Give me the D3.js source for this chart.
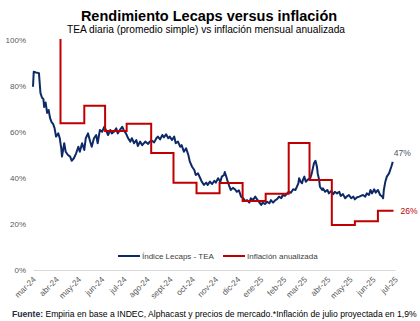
<!DOCTYPE html>
<html><head><meta charset="utf-8">
<script src="https://cdn.jsdelivr.net/npm/d3@7"></script>
<style>html,body{margin:0;padding:0;background:#fff;}svg{display:block;font-family:"Liberation Sans",Arial,sans-serif;}</style>
</head><body><svg id="c" width="420" height="321"></svg>
<script>
const title = "Rendimiento Lecaps versus inflación";
const subtitle = "TEA diaria (promedio simple) vs inflación mensual anualizada";
const tickLabels = ["mar-24","abr-24","may-24","jun-24","jul-24","ago-24","sept-24","oct-24","nov-24","dic-24","ene-25","feb-25","mar-25","abr-25","may-25","jun-25","jul-25"];
const yTicks = [0,20,40,60,80,100];
const seriesNames = ["Índice Lecaps - TEA","Inflación anualizada"];

// Índice Lecaps - TEA (%)
const lecapsDates = ["2024-03-01","2024-03-02","2024-03-05","2024-03-09","2024-03-11","2024-03-13","2024-03-15","2024-03-16","2024-03-18","2024-03-20","2024-03-22","2024-03-24","2024-03-26","2024-03-28","2024-03-30","2024-04-01","2024-04-04","2024-04-06","2024-04-08","2024-04-09","2024-04-12","2024-04-14","2024-04-17","2024-04-20","2024-04-22","2024-04-25","2024-04-28","2024-05-01","2024-05-03","2024-05-06","2024-05-09","2024-05-11","2024-05-14","2024-05-17","2024-05-19","2024-05-22","2024-05-25","2024-05-27","2024-05-30","2024-06-02","2024-06-05","2024-06-07","2024-06-10","2024-06-13","2024-06-15","2024-06-18","2024-06-21","2024-06-23","2024-06-26","2024-06-29","2024-07-01","2024-07-04","2024-07-07","2024-07-10","2024-07-12","2024-07-15","2024-07-18","2024-07-20","2024-07-23","2024-07-26","2024-07-30","2024-08-03","2024-08-05","2024-08-08","2024-08-11","2024-08-14","2024-08-16","2024-08-19","2024-08-22","2024-08-24","2024-08-27","2024-08-30","2024-09-01","2024-09-04","2024-09-07","2024-09-09","2024-09-12","2024-09-15","2024-09-17","2024-09-20","2024-09-23","2024-09-26","2024-09-28","2024-10-01","2024-10-04","2024-10-06","2024-10-09","2024-10-12","2024-10-14","2024-10-17","2024-10-20","2024-10-22","2024-10-25","2024-10-28","2024-10-31","2024-11-02","2024-11-05","2024-11-08","2024-11-10","2024-11-13","2024-11-14","2024-11-16","2024-11-18","2024-11-20","2024-11-22","2024-11-25","2024-11-28","2024-11-30","2024-12-03","2024-12-06","2024-12-09","2024-12-11","2024-12-14","2024-12-17","2024-12-19","2024-12-22","2024-12-25","2024-12-27","2024-12-30","2025-01-02","2025-01-04","2025-01-07","2025-01-10","2025-01-13","2025-01-15","2025-01-18","2025-01-21","2025-01-23","2025-01-26","2025-01-29","2025-01-31","2025-02-03","2025-02-06","2025-02-08","2025-02-11","2025-02-14","2025-02-17","2025-02-19","2025-02-21","2025-02-22","2025-02-24","2025-02-26","2025-02-27","2025-03-01","2025-03-03","2025-03-06","2025-03-09","2025-03-11","2025-03-14","2025-03-16","2025-03-18","2025-03-19","2025-03-21","2025-03-22","2025-03-25","2025-03-26","2025-03-29","2025-04-01","2025-04-03","2025-04-06","2025-04-09","2025-04-11","2025-04-14","2025-04-17","2025-04-19","2025-04-22","2025-04-25","2025-04-27","2025-04-30","2025-05-03","2025-05-06","2025-05-08","2025-05-11","2025-05-14","2025-05-16","2025-05-19","2025-05-22","2025-05-24","2025-05-27","2025-05-29","2025-05-31","2025-06-03","2025-06-05","2025-06-08","2025-06-11","2025-06-14","2025-06-15","2025-06-16","2025-06-18","2025-06-20","2025-06-23","2025-06-26","2025-06-28"];
const lecapsValues = [79.7,86.2,85.9,85.6,77,75,74.3,70.9,72.8,68.3,69.6,66,64.3,63.5,61.7,58,59.4,57.3,52.9,49.3,55.1,51.4,50,49.3,47.5,48.6,50.7,53.6,51.4,55.1,52.2,57.3,59.4,55.8,53.6,57.3,58.7,55.1,60.9,60.1,62.3,60.9,58.7,60.9,59.4,60.1,61.6,59.4,60.9,62.3,60.9,59.4,57.3,55.8,57.3,55.1,56.5,53.9,55.8,54.3,55.8,54.8,55.8,56.2,55.5,57.3,58,56.8,58.7,57.7,59,57.3,58,56.5,58,55.1,55.8,53.6,54.3,51.4,52.9,50,47.1,44.9,43.5,41.3,42,39.9,38.4,37,38,37,38.4,37.4,38.8,38,39.9,38.4,40.6,41.3,42.6,40.6,38.4,36.5,34.8,35.7,35,34,34.6,31.9,31.2,30,30.4,29.3,31.2,30.4,31.9,30.9,29.6,28.3,29.3,28.7,29.7,29,30.4,29.3,30.4,30.7,31.9,31.2,32.6,32.2,33.3,34,33.6,35.1,34.8,36.2,37.7,39.9,38.4,37.7,39.1,40.6,38.4,39.4,39.9,42,46.4,47.5,44.9,42,39.1,36.2,34.8,35.5,34,34.8,33.3,34.3,33,34,33.3,34,32.2,33,31.2,31.9,32.6,31.2,31.9,30.7,31.6,31.9,32.2,32.6,31.9,33.3,32.6,34.8,33.3,35.1,33.6,34.8,32.6,31.9,31.2,34.8,38.4,40.6,42,44.9,47];

// Inflación mensual anualizada (%), step changes
const inflDates = ["2024-03-01","2024-04-07","2024-05-09","2024-06-06","2024-07-05","2024-08-07","2024-09-06","2024-10-07","2024-11-07","2024-12-08","2025-01-08","2025-02-08","2025-03-08","2025-04-07","2025-05-08","2025-06-08","2025-06-29"];
const inflValues = [175,63.8,71.4,60.4,63.6,50.9,37.9,33.4,37.8,30.0,33.2,55.2,39.1,19.6,21.2,25.8,25.8];

const lastLabels = ["47%","26%"];
const colors = ["#0d2a66","#c00000"];

const svg = d3.select("#c");
const parse = d3.utcParse("%Y-%m-%d");
const x = d3.scaleUtc().domain([parse("2024-03-01"), parse("2025-07-01")]).range([33, 395]);
const y = d3.scaleLinear().domain([0, 100]).range([270, 40]);

svg.append("text").attr("x", 209).attr("y", 21).attr("text-anchor", "middle")
  .attr("font-size", 14.5).attr("font-weight", "bold").attr("fill", "#000").text(title);
svg.append("text").attr("x", 206).attr("y", 33).attr("text-anchor", "middle")
  .attr("font-size", 10.2).attr("fill", "#000").text(subtitle);

// y axis
const yAxis = d3.axisLeft(y).tickValues(yTicks).tickFormat(d => d + "%").tickSize(0).tickPadding(0);
const gy = svg.append("g").attr("transform", "translate(26,0)").call(yAxis);
gy.select(".domain").remove();
gy.selectAll("text").attr("font-size", 8).attr("fill", "#595959").attr("font-family", "Liberation Sans, Arial, sans-serif");

// x axis
const monthTicks = d3.utcMonth.range(parse("2024-03-01"), parse("2025-07-02"));
const xAxis = d3.axisBottom(x).tickValues(monthTicks).tickFormat((d, i) => tickLabels[i]).tickSize(0).tickPadding(0);
const gx = svg.append("g").attr("transform", "translate(0,270)").call(xAxis);
gx.select(".domain").attr("stroke", "#d9d9d9").attr("stroke-width", 1);
gx.selectAll("text").attr("font-size", 8.2).attr("fill", "#595959")
  .attr("font-family", "Liberation Sans, Arial, sans-serif")
  .attr("text-anchor", "end").attr("dy", 0)
  .attr("transform", "translate(3,10) rotate(-45)");

svg.append("clipPath").attr("id", "clip").append("rect")
  .attr("x", 30).attr("y", 39).attr("width", 370).attr("height", 232);

const lecaps = lecapsDates.map((d, i) => ({ d: parse(d), v: lecapsValues[i] }));
const infl = inflDates.map((d, i) => ({ d: parse(d), v: inflValues[i] }));

const plot = svg.append("g").attr("clip-path", "url(#clip)");
plot.append("path").datum(lecaps)
  .attr("fill", "none").attr("stroke", colors[0]).attr("stroke-width", 2).attr("stroke-linejoin", "round")
  .attr("d", d3.line().x(p => x(p.d)).y(p => y(p.v)));
plot.append("path").datum(infl)
  .attr("fill", "none").attr("stroke", colors[1]).attr("stroke-width", 2)
  .attr("d", d3.line().curve(d3.curveStepAfter).x(p => x(p.d)).y(p => y(p.v)));

// end labels
const lastL = lecaps[lecaps.length - 1], lastI = infl[infl.length - 1];
svg.append("text").attr("x", x(lastL.d) + 1).attr("y", y(lastL.v) - 6).attr("font-size", 8.5)
  .attr("fill", "#44546a").text(lastLabels[0]);
svg.append("text").attr("x", x(lastI.d) + 7).attr("y", y(lastI.v) + 3).attr("font-size", 8.5)
  .attr("fill", colors[1]).text(lastLabels[1]);

// legend
const lg = svg.append("g").attr("transform", "translate(0,256)");
const legendItems = [{ x: 118, c: colors[0], t: seriesNames[0] }, { x: 223, c: colors[1], t: seriesNames[1] }];
legendItems.forEach(it => {
  lg.append("line").attr("x1", it.x).attr("x2", it.x + 22).attr("y1", 0).attr("y2", 0)
    .attr("stroke", it.c).attr("stroke-width", 2);
  lg.append("text").attr("x", it.x + 24).attr("y", 3).attr("font-size", 8).attr("fill", "#404040").text(it.t);
});

// footer
const ft = svg.append("text").attr("x", 12).attr("y", 317).attr("font-size", 8.6).attr("fill", "#000");
ft.append("tspan").attr("font-weight", "bold").attr("fill", "#1f2a44").text("Fuente:");
ft.append("tspan").text(" Empiria en base a INDEC, Alphacast y precios de mercado.*Inflación de julio proyectada en 1,9%");
</script></body></html>
